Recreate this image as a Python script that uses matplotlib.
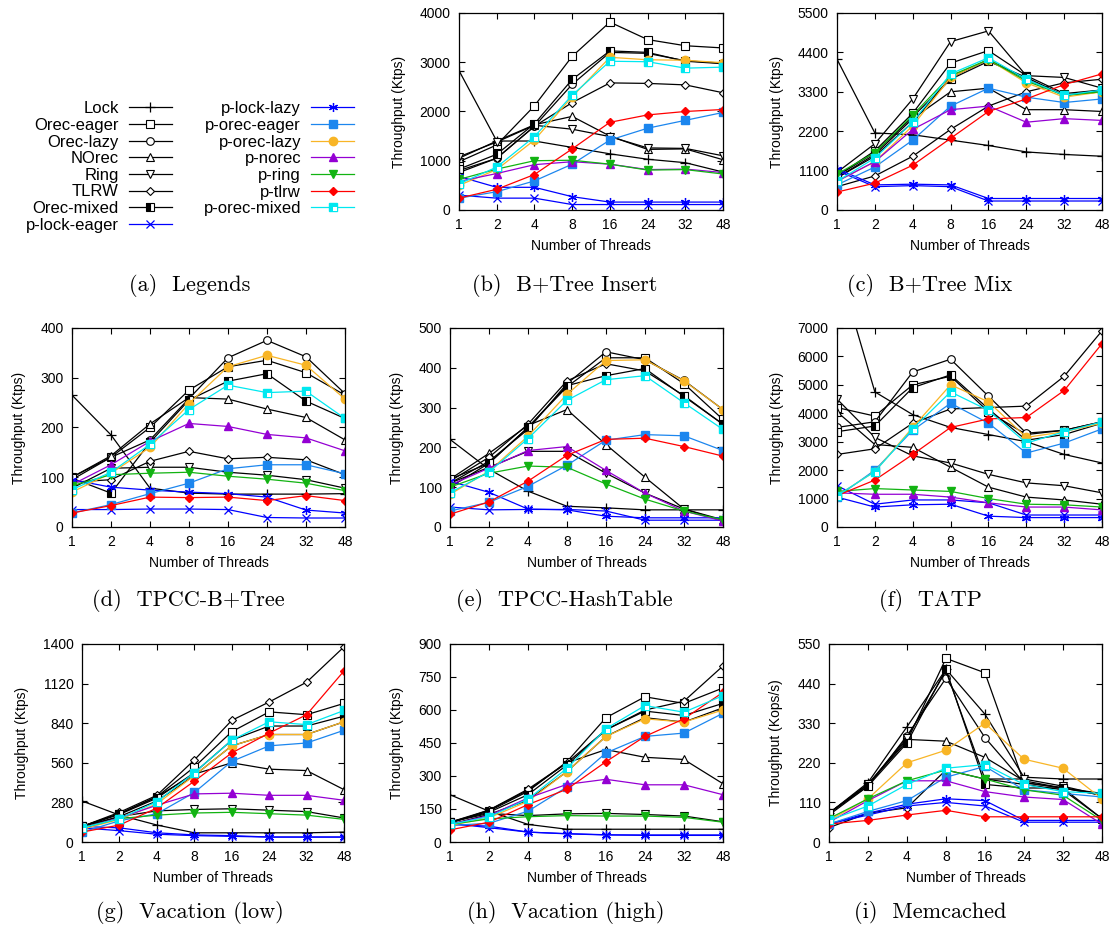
import matplotlib.pyplot as plt
from matplotlib.path import Path
from matplotlib.legend_handler import HandlerTuple

plt.rcParams["font.family"] = ["Liberation Sans", "DejaVu Sans"]

threads = ["1", "2", "4", "8", "16", "24", "32", "48"]
series = ["Lock", "Orec-eager", "Orec-lazy", "NOrec", "Ring", "TLRW", "Orec-mixed",
          "p-lock-eager", "p-lock-lazy", "p-orec-eager", "p-orec-lazy", "p-norec",
          "p-ring", "p-tlrw", "p-orec-mixed"]

# one row per entry of `series`, one column per thread count
btree_insert = [
    [2830, 1400, 1400, 1270, 1140, 1030, 960, 770],
    [980, 1320, 2115, 3120, 3815, 3460, 3335, 3290],
    [800, 1050, 1700, 2550, 3200, 3180, 3030, 2980],
    [1050, 1400, 1730, 1900, 1500, 1230, 1240, 1020],
    [1080, 1380, 1720, 1640, 1490, 1260, 1250, 1100],
    [760, 1050, 1700, 2180, 2580, 2570, 2540, 2380],
    [830, 1130, 1750, 2650, 3230, 3200, 3020, 2970],
    [300, 240, 240, 110, 110, 110, 110, 110],
    [680, 460, 460, 270, 160, 160, 160, 160],
    [240, 370, 590, 930, 1420, 1660, 1820, 1980],
    [500, 820, 1420, 2300, 3100, 3050, 3040, 2990],
    [580, 740, 920, 980, 930, 820, 830, 760],
    [620, 830, 1000, 1010, 930, 810, 820, 730],
    [240, 420, 720, 1240, 1780, 1930, 2000, 2040],
    [530, 870, 1490, 2330, 3020, 3010, 2880, 2900],
]

btree_mix = [
    [4210, 2150, 2100, 1950, 1800, 1620, 1550, 1500],
    [950, 1650, 2700, 4100, 4450, 3750, 3250, 3350],
    [900, 1500, 2450, 3700, 4200, 3650, 3200, 3350],
    [900, 1550, 2550, 3300, 3400, 2800, 2800, 2750],
    [1050, 1850, 3100, 4700, 5000, 3750, 3700, 3400],
    [650, 950, 1500, 2250, 2900, 3300, 3550, 3650],
    [950, 1600, 2600, 3650, 4150, 3700, 3200, 3300],
    [1100, 650, 680, 650, 250, 250, 250, 250],
    [1150, 700, 720, 700, 320, 320, 320, 320],
    [700, 1200, 1950, 2900, 3400, 3150, 3000, 3100],
    [800, 1350, 2350, 3700, 4200, 3550, 3150, 3300],
    [800, 1350, 2250, 2800, 2900, 2450, 2550, 2500],
    [1000, 1600, 2650, 3750, 4200, 3600, 3200, 3300],
    [500, 750, 1250, 2000, 2750, 3100, 3500, 3800],
    [800, 1450, 2450, 3800, 4250, 3650, 3200, 3350],
]

tpcc_btree = [
    [265, 185, 78, 68, 66, 66, 66, 67],
    [100, 140, 200, 275, 322, 335, 310, 265],
    [95, 140, 175, 258, 340, 375, 342, 268],
    [100, 143, 207, 260, 257, 237, 220, 175],
    [78, 118, 120, 120, 110, 104, 95, 78],
    [90, 95, 132, 152, 137, 140, 135, 105],
    [98, 68, 170, 255, 293, 308, 253, 218],
    [35, 35, 36, 36, 35, 19, 18, 18],
    [95, 80, 74, 70, 67, 60, 34, 28],
    [28, 45, 67, 88, 117, 125, 125, 107],
    [70, 108, 160, 248, 322, 345, 325, 257],
    [85, 125, 172, 208, 202, 186, 179, 153],
    [83, 105, 108, 110, 102, 96, 88, 73],
    [28, 43, 60, 59, 60, 53, 63, 53],
    [75, 110, 166, 236, 285, 270, 273, 218],
]

tpcc_hash = [
    [220, 145, 90, 52, 48, 43, 43, 43],
    [100, 160, 250, 352, 425, 425, 360, 270],
    [110, 165, 245, 360, 440, 420, 368, 295],
    [120, 185, 255, 295, 207, 125, 45, 18],
    [110, 150, 190, 190, 135, 85, 45, 15],
    [115, 175, 258, 367, 410, 392, 330, 258],
    [120, 160, 250, 355, 380, 398, 328, 258],
    [50, 43, 44, 44, 40, 17, 17, 17],
    [115, 87, 45, 43, 27, 23, 23, 23],
    [40, 62, 102, 155, 218, 232, 229, 192],
    [82, 140, 228, 333, 418, 420, 367, 295],
    [105, 148, 192, 202, 142, 85, 40, 15],
    [100, 135, 153, 150, 108, 70, 40, 18],
    [32, 63, 115, 180, 220, 223, 202, 178],
    [86, 138, 222, 318, 370, 380, 312, 245],
]

tatp = [
    [9300, 4750, 3950, 3500, 3250, 3000, 2550, 2250],
    [4200, 3900, 5000, 5300, 4050, 3250, 3400, 3700],
    [3500, 3700, 5450, 5900, 4600, 3300, 3400, 3700],
    [4050, 2900, 2800, 2100, 1400, 1050, 950, 800],
    [4500, 3150, 2500, 2250, 1850, 1550, 1450, 1200],
    [2550, 2750, 3650, 4150, 4200, 4250, 5300, 6900],
    [3350, 3550, 4900, 5350, 4150, 3050, 3250, 3650],
    [1450, 800, 950, 950, 850, 420, 420, 420],
    [1050, 700, 780, 800, 380, 330, 330, 330],
    [1050, 2000, 3400, 4350, 3650, 2600, 2950, 3450],
    [1100, 1950, 3500, 5000, 4400, 3150, 3350, 3650],
    [1200, 1150, 1150, 1050, 850, 700, 700, 600],
    [1250, 1350, 1300, 1250, 1000, 800, 780, 700],
    [1100, 1650, 2550, 3500, 3800, 3850, 4800, 6450],
    [1100, 1950, 3450, 4750, 4100, 2950, 3350, 3700],
]

vacation_low = [
    [290, 190, 120, 65, 65, 65, 65, 70],
    [110, 200, 320, 530, 780, 920, 900, 980],
    [100, 180, 290, 470, 680, 760, 760, 850],
    [110, 200, 320, 480, 560, 515, 505, 370],
    [110, 180, 220, 230, 235, 225, 215, 170],
    [110, 210, 330, 580, 860, 990, 1130, 1380],
    [110, 195, 310, 490, 720, 820, 820, 890],
    [100, 80, 55, 45, 40, 35, 35, 35],
    [110, 100, 65, 50, 45, 35, 35, 35],
    [70, 150, 200, 350, 570, 680, 700, 790],
    [90, 160, 270, 470, 680, 760, 760, 850],
    [100, 170, 260, 340, 345, 330, 330, 295],
    [100, 165, 190, 205, 210, 200, 190, 160],
    [70, 120, 240, 430, 630, 770, 900, 1210],
    [100, 165, 285, 490, 720, 850, 830, 930],
]

vacation_high = [
    [215, 140, 80, 58, 58, 58, 58, 58],
    [90, 140, 230, 365, 565, 660, 630, 700],
    [80, 125, 190, 320, 480, 565, 545, 610],
    [85, 145, 235, 360, 420, 385, 375, 265],
    [90, 130, 120, 128, 130, 125, 118, 92],
    [90, 145, 240, 360, 510, 600, 640, 800],
    [90, 135, 215, 350, 510, 595, 575, 630],
    [85, 65, 45, 38, 33, 30, 30, 30],
    [80, 72, 45, 37, 32, 32, 32, 32],
    [75, 85, 140, 250, 405, 480, 495, 585],
    [75, 110, 185, 320, 480, 560, 545, 600],
    [80, 120, 200, 262, 285, 260, 260, 215],
    [80, 105, 115, 120, 118, 118, 112, 90],
    [55, 90, 170, 240, 365, 480, 560, 680],
    [80, 115, 195, 335, 515, 620, 590, 665],
]

memcached = [
    [80, 165, 320, 480, 355, 180, 175, 175],
    [80, 160, 280, 510, 470, 165, 150, 130],
    [75, 155, 295, 455, 290, 165, 150, 130],
    [80, 160, 285, 280, 235, 170, 150, 135],
    [80, 160, 290, 475, 175, 175, 155, 130],
    [40, 80, 95, 200, 175, 160, 145, 65],
    [80, 155, 275, 480, 160, 150, 150, 65],
    [50, 75, 100, 110, 100, 55, 55, 55],
    [50, 80, 105, 120, 115, 60, 60, 60],
    [50, 85, 115, 180, 210, 145, 135, 125],
    [60, 120, 220, 255, 330, 230, 205, 120],
    [55, 115, 170, 170, 140, 125, 118, 50],
    [65, 120, 170, 200, 175, 145, 130, 60],
    [50, 60, 75, 88, 70, 70, 70, 70],
    [60, 100, 160, 205, 215, 160, 140, 135],
]

# small white square in the lower right corner of the cyan marker
inner_sq = Path([(0.5, 0.5), (0.05, -0.42), (0.42, -0.42), (0.42, -0.05), (0.05, -0.05), (0.05, -0.42)],
                [Path.MOVETO, Path.MOVETO, Path.LINETO, Path.LINETO, Path.LINETO, Path.CLOSEPOLY])

styles = [
    dict(color="black", marker="+", ms=7, mew=0.9),
    dict(color="black", marker="s", ms=5.5, mfc="white", mew=0.8),
    dict(color="black", marker="o", ms=5.5, mfc="white", mew=0.8),
    dict(color="black", marker="^", ms=5.5, mfc="white", mew=0.8),
    dict(color="black", marker="v", ms=5.5, mfc="white", mew=0.8),
    dict(color="black", marker="D", ms=4.5, mfc="white", mew=0.8),
    dict(color="black", marker="s", ms=5.5, fillstyle="left", mfc="black", mfcalt="white", mew=0.8),
    dict(color="#0000ff", marker="x", ms=5.5, mew=0.9),
    dict(color="#0000ff", marker=(6, 2, 0), ms=6.5, mew=0.9),
    dict(color="#1c86ee", marker="s", ms=6),
    dict(color="#f8b526", marker="o", ms=6),
    dict(color="#9400d3", marker="^", ms=5.5),
    dict(color="#12b312", marker="v", ms=5.5),
    dict(color="#ff0000", marker="D", ms=4.5),
    dict(color="#00e8f0", marker="s", ms=6),
]

panels = [
    (btree_insert, 4000, 1000, "Throughput (Ktps)", "(b)  B+Tree Insert", (0.4113, 0.7752, 0.2366, 0.2109), 565),
    (btree_mix, 5500, 1100, "Throughput (Ktps)", "(c)  B+Tree Mix", (0.750, 0.7752, 0.2375, 0.2109), 930),
    (tpcc_btree, 400, 100, "Throughput (Ktps)", "(d)  TPCC-B+Tree", (0.0645, 0.4358, 0.2446, 0.2131), 188),
    (tpcc_hash, 500, 100, "Throughput (Ktps)", "(e)  TPCC-HashTable", (0.4032, 0.4358, 0.2446, 0.2131), 564),
    (tatp, 7000, 1000, "Throughput (Ktps)", "(f)  TATP", (0.750, 0.4358, 0.2375, 0.2131), 930),
    (vacation_low, 1400, 280, "Throughput (Ktps)", "(g)  Vacation (low)", (0.0735, 0.0985, 0.2348, 0.2120), 190),
    (vacation_high, 900, 150, "Throughput (Ktps)", "(h)  Vacation (high)", (0.4032, 0.0985, 0.2446, 0.2120), 566),
    (memcached, 550, 110, "Throughput (Kops/s)", "(i)  Memcached", (0.7428, 0.0985, 0.2446, 0.2120), 930),
]
caption_y = {0.7752: 285, 0.4358: 600, 0.0985: 912}

fig = plt.figure(figsize=(11.16, 9.34), dpi=100)
x = list(range(len(threads)))
handles = []

for data, ymax, ystep, ylabel, caption, rect, cx in panels:
    ax = fig.add_axes(rect)
    for i, (name, vals) in enumerate(zip(series, data)):
        st = dict(styles[i])
        line, = ax.plot(x, vals, lw=0.9, label=name, **st)
        if name == "p-orec-mixed":
            dot, = ax.plot(x, vals, ls="none", marker=inner_sq, ms=st["ms"], mfc="white", mew=0)
            line = (line, dot)
        if len(handles) < len(series):
            handles.append(line)
    ax.set_xlim(0, len(threads) - 1)
    ax.set_ylim(0, ymax)
    ax.set_xticks(x)
    ax.set_xticklabels(threads)
    ax.set_yticks(range(0, ymax + 1, ystep))
    ax.tick_params(direction="in", length=4, width=0.8, top=True, right=True, labelsize=10, pad=6)
    ax.set_xlabel("Number of Threads", fontsize=10, labelpad=5)
    ax.set_ylabel(ylabel, fontsize=10, labelpad=10)
    for sp in ax.spines.values():
        sp.set_linewidth(0.9)
    fig.text(cx / 1116, 1 - caption_y[rect[1]] / 934, caption, family="cmr10",
             fontsize=16, ha="center", va="center")

fig.legend(handles, series, ncol=2, markerfirst=False, frameon=False, fontsize=12,
           handlelength=2.6, handletextpad=0.6, columnspacing=1.9, labelspacing=0.1,
           handler_map={tuple: HandlerTuple(ndivide=1)},
           loc="center", bbox_to_anchor=(190 / 1116, 1 - 167 / 934))
fig.text(190 / 1116, 1 - 285 / 934, "(a)  Legends", family="cmr10", fontsize=16,
         ha="center", va="center")

fig.savefig("out.png", dpi=100)
